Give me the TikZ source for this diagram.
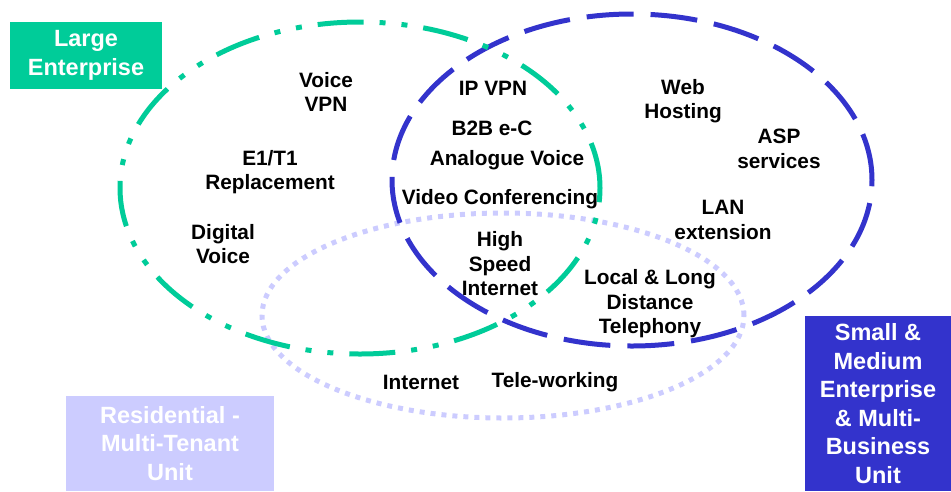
\documentclass[tikz,border=0pt]{standalone}
\usepackage{fontspec}
\setmainfont{Liberation Sans}
\definecolor{largegreen}{RGB}{0,204,153}
\definecolor{smeblue}{RGB}{51,51,204}
\definecolor{resililac}{RGB}{204,204,255}

\begin{document}
\begin{tikzpicture}[
  x=1pt, y=-1pt,
  ring/.style={line width=5pt},
  largering/.style={ring, draw=largegreen, dash pattern=on 46pt off 16pt on 6pt off 16pt on 6pt off 16pt},
  smering/.style={ring, draw=smeblue, dash pattern=on 47pt off 17pt},
  resiring/.style={ring, draw=resililac, dash pattern=on 5pt off 6pt},
  service/.style={align=center, inner sep=0pt, font=\fontsize{20.8}{24.5}\selectfont\bfseries},
  segment/.style={align=center, inner sep=0pt, text=white, font=\fontsize{23.5}{28.5}\selectfont\bfseries},
]
\useasboundingbox (0,0) rectangle (951,491);

% --- Kundensegmente als Ellipsen (Reihenfolge = Ueberdeckung) ---
\draw[resiring]  (503,315.5) ellipse [x radius=241pt, y radius=102.5pt];
\draw[smering]   (632,180)   ellipse [x radius=240pt, y radius=166pt];
\draw[largering] (360,188)   ellipse [x radius=240pt, y radius=166pt];

% --- Segment-Beschriftungen (farbige Kaesten) ---
\node[segment, fill=largegreen, minimum width=152pt, minimum height=67pt] (large) at (86,55.5) {Large\\Enterprise};
\node[segment, fill=resililac, minimum width=208pt, minimum height=95pt] (resi) at (170,443.5) {Residential -\\Multi-Tenant\\Unit};
\node[segment, fill=smeblue, minimum width=146pt, minimum height=175pt] (sme) at (878,403.5) {Small \&\\Medium\\Enterprise\\\& Multi-\\Business\\Unit};

% --- nur Large Enterprise ---
\node[service] (voicevpn) at (326,92)  {Voice\\VPN};
\node[service] (e1t1)     at (270,172) {E1/T1\\Replacement};
\node[service] (digital)  at (223,244) {Digital\\Voice};

% --- Schnittmenge Large / SME ---
\node[service] (ipvpn)    at (493,88)  {IP VPN};
\node[service] (btob)     at (492,128) {B2B e-C};
\node[service] (analogue) at (507,160) {Analogue Voice};
\node[service] (video)    at (500,199) {Video Conferencing};

% --- alle drei Segmente ---
\node[service] (highspeed) at (500,264) {High\\Speed\\Internet};

% --- nur SME ---
\node[service] (web) at (683,101) {Web\\Hosting};
\node[service] (asp) at (779,149) {ASP\\services};
\node[service] (lan) at (723,220) {LAN\\extension};

% --- Schnittmenge SME / Residential ---
\node[service] (telephony) at (650,304) {Local \& Long\\Distance\\Telephony};

% --- nur Residential ---
\node[service] (internet) at (421,382) {Internet};
\node[service] (telework) at (555,382) {Tele-working};

\end{tikzpicture}
\end{document}
